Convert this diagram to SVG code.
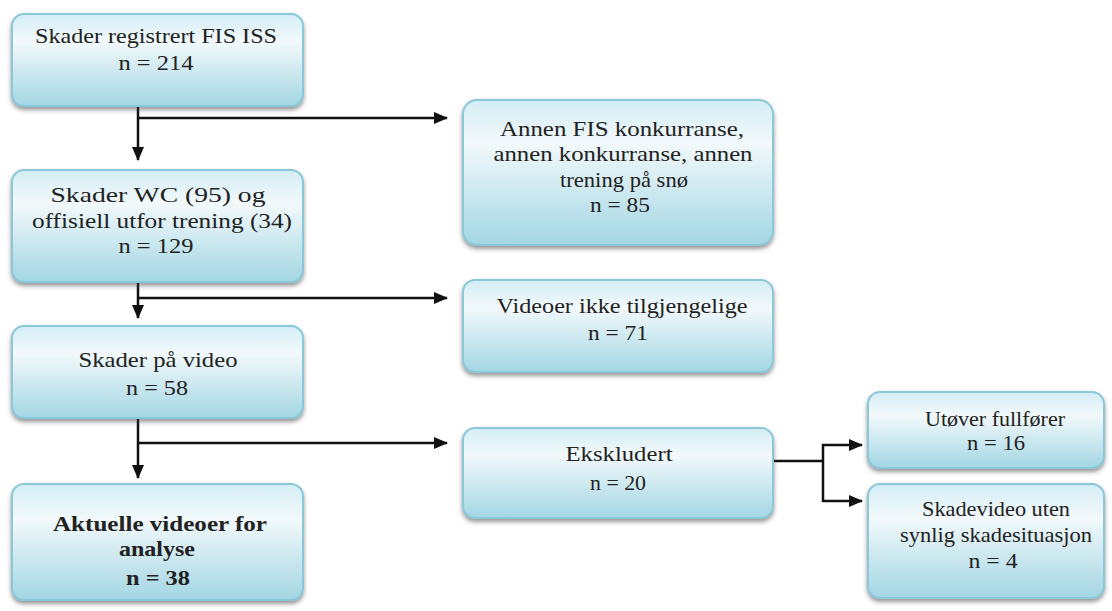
<svg xmlns="http://www.w3.org/2000/svg" width="1112" height="611" viewBox="0 0 1112 611">
<defs>
<linearGradient id="g" x1="0" y1="0" x2="0" y2="1">
<stop offset="0" stop-color="#d3edf4"/>
<stop offset="0.3" stop-color="#f2f9fb"/>
<stop offset="1" stop-color="#a3d6e3"/>
</linearGradient>
<filter id="sh" x="-5%" y="-5%" width="110%" height="120%">
<feDropShadow dx="0" dy="3" stdDeviation="2" flood-color="#444" flood-opacity="0.55"/>
</filter>
<marker id="ah" markerWidth="14" markerHeight="12" refX="13" refY="6" orient="auto" markerUnits="userSpaceOnUse">
<path d="M0,0 L14,6 L0,12 Z" fill="#111"/>
</marker>
</defs>
<style>
.box{fill:url(#g);stroke:#8ac7d8;stroke-width:2;filter:url(#sh)}
.t{font-family:"Liberation Serif","Times New Roman",serif;font-size:22px;fill:#222;text-anchor:middle}
.s{font-size:21px}
.b{font-weight:bold}
.c{fill:none;stroke:#111;stroke-width:2.5}
</style>
<g id="connectors">
<path class="c" d="M138,106 V160" marker-end="url(#ah)"/>
<path class="c" d="M138,118 H447" marker-end="url(#ah)"/>
<path class="c" d="M138,282 V318" marker-end="url(#ah)"/>
<path class="c" d="M138,298 H447" marker-end="url(#ah)"/>
<path class="c" d="M138,418 V478" marker-end="url(#ah)"/>
<path class="c" d="M138,443 H447" marker-end="url(#ah)"/>
<path class="c" d="M773,461 H823"/>
<path class="c" d="M823,444 V502"/>
<path class="c" d="M822,445 H862" marker-end="url(#ah)"/>
<path class="c" d="M822,501 H862" marker-end="url(#ah)"/>
</g>
<g id="n1">
<rect class="box" x="12" y="14" width="291" height="92" rx="12"/>
<text class="t" x="156" y="43" textLength="242" lengthAdjust="spacingAndGlyphs">Skader registrert FIS ISS</text>
<text class="t" x="156" y="70" textLength="75" lengthAdjust="spacingAndGlyphs">n = 214</text>
</g>
<g id="n2">
<rect class="box" x="463" y="100" width="310" height="145" rx="14"/>
<text class="t" x="622" y="136" textLength="244" lengthAdjust="spacingAndGlyphs">Annen FIS konkurranse,</text>
<text class="t" x="623" y="161" textLength="259" lengthAdjust="spacingAndGlyphs">annen konkurranse, annen</text>
<text class="t" x="624" y="187" textLength="128" lengthAdjust="spacingAndGlyphs">trening på snø</text>
<text class="t" x="620" y="212" textLength="60" lengthAdjust="spacingAndGlyphs">n = 85</text>
</g>
<g id="n3">
<rect class="box" x="12" y="170" width="291" height="112" rx="12"/>
<text class="t" x="158" y="202" textLength="215" lengthAdjust="spacingAndGlyphs">Skader WC (95) og</text>
<text class="t" x="162" y="228" textLength="260" lengthAdjust="spacingAndGlyphs">offisiell utfor trening (34)</text>
<text class="t" x="156" y="253" textLength="75" lengthAdjust="spacingAndGlyphs">n = 129</text>
</g>
<g id="n4">
<rect class="box" x="463" y="280" width="310" height="92" rx="12"/>
<text class="t" x="622" y="313" textLength="251" lengthAdjust="spacingAndGlyphs">Videoer ikke tilgjengelige</text>
<text class="t" x="618" y="340" textLength="60" lengthAdjust="spacingAndGlyphs">n = 71</text>
</g>
<g id="n5">
<rect class="box" x="12" y="326" width="291" height="92" rx="12"/>
<text class="t" x="158" y="367" textLength="159" lengthAdjust="spacingAndGlyphs">Skader på video</text>
<text class="t" x="157" y="395" textLength="62" lengthAdjust="spacingAndGlyphs">n = 58</text>
</g>
<g id="n6">
<rect class="box" x="463" y="428" width="310" height="90" rx="12"/>
<text class="t" x="619" y="461" textLength="107" lengthAdjust="spacingAndGlyphs">Ekskludert</text>
<text class="t" x="618" y="490" textLength="56" lengthAdjust="spacingAndGlyphs">n = 20</text>
</g>
<g id="n7">
<rect class="box" x="12" y="484" width="291" height="116" rx="12"/>
<text class="t b" x="160" y="531" textLength="214" lengthAdjust="spacingAndGlyphs">Aktuelle videoer for</text>
<text class="t b" x="157" y="556" textLength="76" lengthAdjust="spacingAndGlyphs">analyse</text>
<text class="t b" x="158" y="585" textLength="64" lengthAdjust="spacingAndGlyphs">n = 38</text>
</g>
<g id="n8">
<rect class="box" x="868" y="392" width="236" height="76" rx="12"/>
<text class="t s" x="995" y="426" textLength="140" lengthAdjust="spacingAndGlyphs">Utøver fullfører</text>
<text class="t s" x="996" y="450" textLength="58" lengthAdjust="spacingAndGlyphs">n = 16</text>
</g>
<g id="n9">
<rect class="box" x="868" y="484" width="236" height="114" rx="12"/>
<text class="t s" x="996" y="516" textLength="148" lengthAdjust="spacingAndGlyphs">Skadevideo uten</text>
<text class="t s" x="996" y="542" textLength="192" lengthAdjust="spacingAndGlyphs">synlig skadesituasjon</text>
<text class="t s" x="993" y="568" textLength="49" lengthAdjust="spacingAndGlyphs">n = 4</text>
</g>
</svg>
